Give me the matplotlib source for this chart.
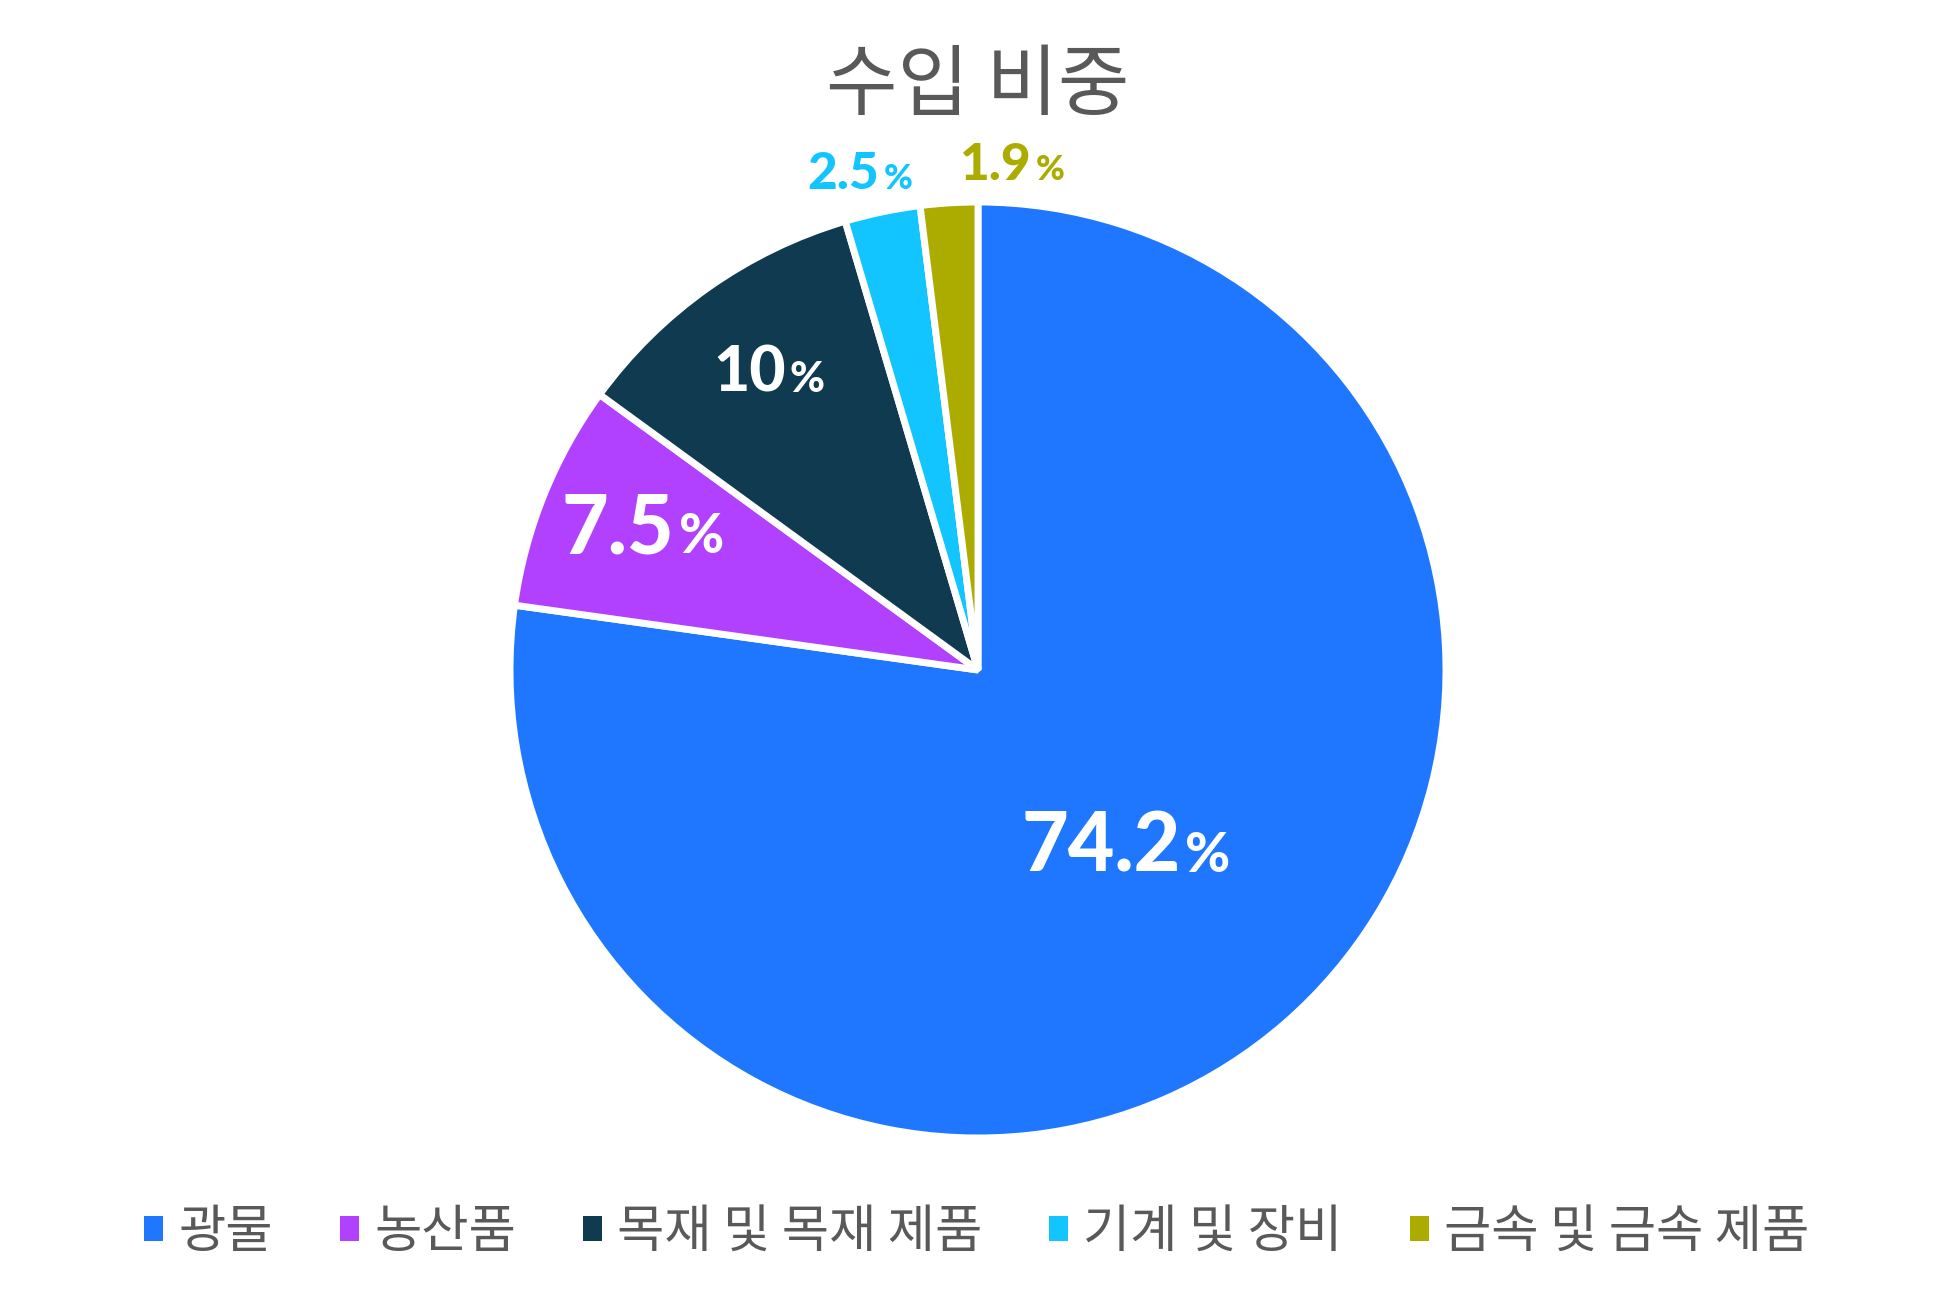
import numpy as np
import matplotlib.pyplot as plt
from matplotlib.patches import Patch
from matplotlib.offsetbox import TextArea, HPacker, AnnotationBbox

# data
categories = ["광물", "농산품", "목재 및 목재 제품", "기계 및 장비", "금속 및 금속 제품"]
shares = [74.2, 7.5, 10, 2.5, 1.9]
share_labels = ["74.2", "7.5", "10", "2.5", "1.9"]

colors = ["#1F77FF", "#B141FF", "#0F3A4F", "#12C5FF", "#ABAB00"]
gray = "#595959"

# label layout: radius (pie units), angle nudge (deg), digit size, inside slice
label_r = [0.495, 0.776, 0.775, 1.088, 1.08]
label_nudge = [-1.3, -0.7, 0, 1.6, -7.4]
label_size = [58, 58, 45, 37, 37]
label_inside = [True, True, True, False, False]

plt.rcParams['font.family'] = ['Noto Sans CJK KR', 'DejaVu Sans']
num_font = ['Lato', 'DejaVu Sans']

W, H = 1953, 1302
fig = plt.figure(figsize=(W / 100, H / 100), dpi=100)
fig.patch.set_facecolor("white")

cx, cy, rad = 978, 670, 468
ax = fig.add_axes([(cx - rad) / W, (H - cy - rad) / H, 2 * rad / W, 2 * rad / H])

wedges, _ = ax.pie(shares, colors=colors, startangle=90, counterclock=False,
                   wedgeprops=dict(edgecolor="white", linewidth=5, joinstyle="bevel"))
ax.set_xlim(-1, 1)
ax.set_ylim(-1, 1)
ax.axis("off")

for w, txt, r, nud, sz, inside, col in zip(wedges, share_labels, label_r, label_nudge,
                                            label_size, label_inside, colors):
    ang = np.deg2rad((w.theta1 + w.theta2) / 2 + nud)
    x, y = r * np.cos(ang), r * np.sin(ang)
    tc = "white" if inside else col
    num = TextArea(txt, textprops=dict(color=tc, fontsize=sz, fontweight="black", family=num_font))
    pct = TextArea("%", textprops=dict(color=tc, fontsize=sz * 0.68, fontweight="black", family=num_font))
    box = HPacker(children=[num, pct], align="baseline", pad=0, sep=3)
    ab = AnnotationBbox(box, (x, y), xycoords="data", frameon=False,
                        box_alignment=(0.5, 0.5), annotation_clip=False)
    ax.add_artist(ab)

fig.text(0.5004, 1 - 87 / H, "수입 비중", ha="center", va="center",
         fontsize=56, color=gray)

handles = [Patch(facecolor=c, edgecolor="none") for c in colors]
leg = fig.legend(handles, categories, loc="center", bbox_to_anchor=(0.5, 1 - 1232 / H),
                 ncol=5, frameon=False, fontsize=37, handlelength=0.37, handleheight=0.37,
                 handletextpad=0.3, columnspacing=1.3, labelcolor=gray)

fig.savefig("out.png", dpi=100, facecolor="white")
